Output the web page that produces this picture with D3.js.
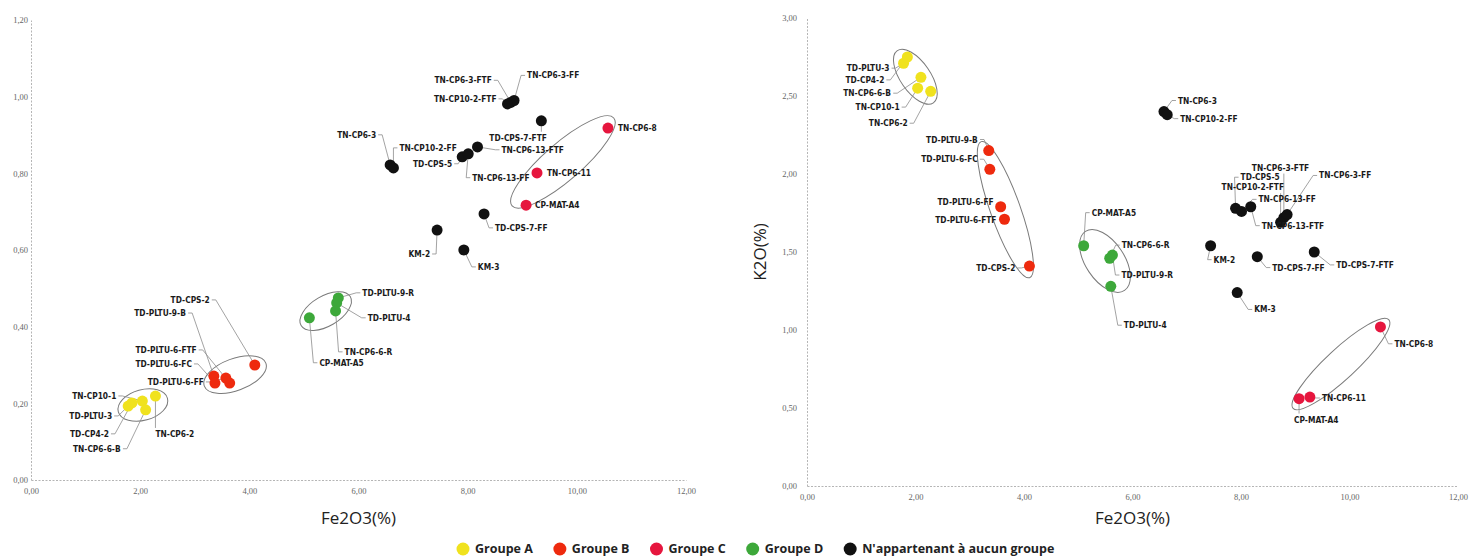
<!DOCTYPE html>
<html>
<head>
<meta charset="utf-8">
<script src="https://cdn.jsdelivr.net/npm/d3@7"></script>
<style>
  body { margin: 0; background: #fff; }
  svg { display: block; }
</style>
</head>
<body>
<svg id="chart" width="1480" height="560"></svg>
<script>
// ---- data (one entry per sample, same order everywhere) ----
const samples = [
  'TN-CP10-1', 'TD-PLTU-3', 'TD-CP4-2', 'TN-CP6-6-B', 'TN-CP6-2',
  'TD-CPS-2', 'TD-PLTU-9-B', 'TD-PLTU-6-FTF', 'TD-PLTU-6-FC', 'TD-PLTU-6-FF',
  'TD-PLTU-9-R', 'TD-PLTU-4', 'TN-CP6-6-R', 'CP-MAT-A5',
  'TN-CP6-3-FTF', 'TN-CP6-3-FF', 'TN-CP10-2-FTF', 'TN-CP6-3', 'TN-CP10-2-FF',
  'TD-CPS-7-FTF', 'TN-CP6-13-FTF', 'TD-CPS-5', 'TN-CP6-13-FF', 'TD-CPS-7-FF',
  'KM-2', 'KM-3',
  'TN-CP6-8', 'TN-CP6-11', 'CP-MAT-A4'
];
const groups = [
  'A', 'A', 'A', 'A', 'A',
  'B', 'B', 'B', 'B', 'B',
  'D', 'D', 'D', 'D',
  'N', 'N', 'N', 'N', 'N',
  'N', 'N', 'N', 'N', 'N',
  'N', 'N',
  'C', 'C', 'C'
];
const fe2o3 = [
  2.04, 1.78, 1.85, 2.10, 2.28,
  4.10, 3.35, 3.64, 3.37, 3.57,
  5.63, 5.60, 5.58, 5.10,
  8.79, 8.85, 8.73, 6.58, 6.64,
  9.35, 8.18, 7.90, 8.01, 8.30,
  7.44, 7.93,
  10.57, 9.27, 9.07
];
// left chart ordinate (no axis title in the source)
const yLeft = [
  0.206, 0.193, 0.201, 0.183, 0.219,
  0.300, 0.271, 0.253, 0.253, 0.266,
  0.475, 0.462, 0.441, 0.423,
  0.985, 0.990, 0.981, 0.822, 0.814,
  0.937, 0.869, 0.843, 0.851, 0.694,
  0.652, 0.600,
  0.918, 0.801, 0.717
];
const k2o = [
  2.55, 2.71, 2.75, 2.62, 2.53,
  1.41, 2.15, 1.71, 2.03, 1.79,
  1.48, 1.28, 1.46, 1.54,
  1.72, 1.74, 1.69, 2.40, 2.38,
  1.50, 1.79, 1.78, 1.76, 1.47,
  1.54, 1.24,
  1.02, 0.57, 0.56
];

const legendKeys = ['A', 'B', 'C', 'D', 'N'];
const legendLabels = ['Groupe A', 'Groupe B', 'Groupe C', 'Groupe D', "N'appartenant à aucun groupe"];
const xTicks = [0, 2, 4, 6, 8, 10, 12];
const yTicksLeft = [0, 0.2, 0.4, 0.6, 0.8, 1.0, 1.2];
const yTicksRight = [0, 0.5, 1.0, 1.5, 2.0, 2.5, 3.0];

// ---- label placement (pixel offset from the point, anchor) ----
const labelPosLeft = {
  'TN-CP10-1': [-26, -5, 'e'], 'TD-PLTU-3': [-16, 10, 'e'], 'TD-CP4-2': [-23, 31, 'e'],
  'TN-CP6-6-B': [-25, 39, 'e'], 'TN-CP6-2': [0, 38, 's'],
  'TD-CPS-2': [-45, -65, 'e'], 'TD-PLTU-9-B': [-28, -63, 'e'], 'TD-PLTU-6-FTF': [-33, -33, 'e'],
  'TD-PLTU-6-FC': [-23, -19, 'e'], 'TD-PLTU-6-FF': [-22, 4, 'e'],
  'TD-PLTU-9-R': [24, -5, 's'], 'TD-PLTU-4': [31, 15, 's'], 'TN-CP6-6-R': [9, 41, 's'], 'CP-MAT-A5': [10, 45, 's'],
  'TN-CP6-3-FTF': [-19, -22, 'e'], 'TN-CP6-3-FF': [13, -25, 's'], 'TN-CP10-2-FTF': [-11, -5, 'e'],
  'TN-CP6-3': [-14, -30, 'e'], 'TN-CP10-2-FF': [6, -20, 's'],
  'TD-CPS-7-FTF': [-52, 17, 's'], 'TN-CP6-13-FTF': [24, 3, 's'], 'TD-CPS-5': [-10, 7, 'e'],
  'TN-CP6-13-FF': [4, 24, 's'], 'TD-CPS-7-FF': [11, 14, 's'],
  'KM-2': [-7, 24, 'e'], 'KM-3': [14, 17, 's'],
  'TN-CP6-8': [10, 0, 's'], 'TN-CP6-11': [10, 0, 's'], 'CP-MAT-A4': [9, 0, 's']
};
const labelPosRight = {
  'TD-PLTU-3': [-14, 5, 'e'], 'TD-CP4-2': [-23, 23, 'e'], 'TN-CP6-6-B': [-30, 16, 'e'],
  'TN-CP10-1': [-18, 19, 'e'], 'TN-CP6-2': [-23, 32, 'e'],
  'TD-PLTU-9-B': [-11, -11, 'e'], 'TD-PLTU-6-FC': [-12, -10, 'e'], 'TD-PLTU-6-FF': [-7, -5, 'e'],
  'TD-PLTU-6-FTF': [-8, 1, 'e'], 'TD-CPS-2': [-14, 2, 'e'],
  'CP-MAT-A5': [8, -33, 's'], 'TN-CP6-6-R': [12, -13, 's'], 'TD-PLTU-9-R': [9, 20, 's'], 'TD-PLTU-4': [13, 39, 's'],
  'TN-CP6-3': [14, -11, 's'], 'TN-CP10-2-FF': [13, 4, 's'],
  'TN-CP6-3-FTF': [-32, -50, 's'], 'TD-CPS-5': [5, -31, 's'], 'TN-CP6-3-FF': [32, -39, 's'],
  'TN-CP10-2-FTF': [-59, -35, 's'], 'TN-CP6-13-FF': [17, -12, 's'], 'TN-CP6-13-FTF': [11, 19, 's'],
  'KM-2': [3, 14, 's'], 'TD-CPS-7-FF': [15, 11, 's'], 'TD-CPS-7-FTF': [22, 13, 's'], 'KM-3': [17, 17, 's'],
  'TN-CP6-8': [14, 17, 's'], 'TN-CP6-11': [12, 1, 's'], 'CP-MAT-A4': [-5, 21, 's']
};

const groupColor = { A: '#f0e21e', B: '#ee2a0e', C: '#e6163e', D: '#3da83a', N: '#111111' };
const fmt = d => d3.format('.2f')(d).replace('.', ',');

const svg = d3.select('#chart');

const rows = samples.map((s, i) => ({ name: s, group: groups[i], x: fe2o3[i], yl: yLeft[i], yr: k2o[i] }));

// ellipse around a group, fitted to its points on screen (principal axis)
function groupEllipse(pts) {
  const mx = d3.mean(pts, p => p[0]), my = d3.mean(pts, p => p[1]);
  let sxx = 0, syy = 0, sxy = 0;
  pts.forEach(p => {
    const dx = p[0] - mx, dy = p[1] - my;
    sxx += dx * dx; syy += dy * dy; sxy += dx * dy;
  });
  const th = 0.5 * Math.atan2(2 * sxy, sxx - syy);
  const c = Math.cos(th), s = Math.sin(th);
  const us = pts.map(p => (p[0] - mx) * c + (p[1] - my) * s);
  const vs = pts.map(p => -(p[0] - mx) * s + (p[1] - my) * c);
  const [u0, u1] = d3.extent(us), [v0, v1] = d3.extent(vs);
  const uc = (u0 + u1) / 2, vc = (v0 + v1) / 2;
  return {
    cx: mx + uc * c - vc * s,
    cy: my + uc * s + vc * c,
    rx: (u1 - u0) / 2 + 11,
    ry: Math.max((v1 - v0) / 2 + 10, 15),
    angle: th * 180 / Math.PI
  };
}

function leader(p, b) {
  const midY = b.y + b.height / 2;
  if (p[0] < b.x - 2) {
    const ax = b.x - 2;
    return [p, [ax - 4, midY], [ax, midY]];
  }
  if (p[0] > b.x + b.width + 2) {
    const ax = b.x + b.width + 2;
    return [p, [ax + 4, midY], [ax, midY]];
  }
  const ay = p[1] < b.y ? b.y - 1 : b.y + b.height + 1;
  return [p, [p[0], ay]];
}

function drawPanel(cfg) {
  const g = svg.append('g');
  const x = d3.scaleLinear().domain([0, 12]).range(cfg.xRange);
  const y = d3.scaleLinear().domain(cfg.yDomain).range(cfg.yRange);

  const yAxis = g.append('g').attr('transform', `translate(${cfg.xRange[0]},0)`)
    .call(d3.axisLeft(y).tickValues(cfg.yTicks).tickSize(0).tickSizeOuter(0).tickPadding(cfg.yPad).tickFormat(fmt));
  const xAxis = g.append('g').attr('transform', `translate(0,${cfg.yRange[0]})`)
    .call(d3.axisBottom(x).tickValues(xTicks).tickSize(0).tickSizeOuter(0).tickPadding(8).tickFormat(fmt));
  [yAxis, xAxis].forEach(a => {
    a.select('.domain').attr('stroke', '#b5b5b5').attr('stroke-dasharray', '2,1.5');
    a.selectAll('text').attr('font-family', '"Liberation Serif", serif').attr('font-size', 8.5).attr('fill', '#666');
  });

  g.append('text')
    .attr('x', (cfg.xRange[0] + cfg.xRange[1]) / 2).attr('y', 524)
    .attr('text-anchor', 'middle')
    .attr('font-family', '"Open Sans", sans-serif').attr('font-size', 17).attr('fill', '#222')
    .text('Fe2O3(%)');
  if (cfg.yTitle) {
    g.append('text')
      .attr('transform', `translate(${cfg.xRange[0] - 41},${(cfg.yRange[0] + cfg.yRange[1]) / 2}) rotate(-90)`)
      .attr('text-anchor', 'middle')
      .attr('font-family', '"Open Sans", sans-serif').attr('font-size', 17).attr('fill', '#222')
      .text(cfg.yTitle);
  }

  const pts = rows.map(d => ({ ...d, px: x(d.x), py: y(d[cfg.yKey]) }));

  // group ellipses
  ['A', 'B', 'C', 'D'].forEach(k => {
    const e = groupEllipse(pts.filter(d => d.group === k).map(d => [d.px, d.py]));
    g.append('ellipse')
      .attr('transform', `translate(${e.cx},${e.cy}) rotate(${e.angle})`)
      .attr('rx', e.rx).attr('ry', e.ry)
      .attr('fill', 'none').attr('stroke', '#7a7a7a').attr('stroke-width', 1);
  });

  const leaders = g.append('g');
  g.append('g').selectAll('circle').data(pts).enter().append('circle')
    .attr('cx', d => d.px).attr('cy', d => d.py).attr('r', 5.5)
    .attr('fill', d => groupColor[d.group]);

  const labels = g.append('g').selectAll('text').data(pts).enter().append('text')
    .attr('x', d => d.px + cfg.labelPos[d.name][0])
    .attr('y', d => d.py + cfg.labelPos[d.name][1])
    .attr('dy', '0.35em')
    .attr('text-anchor', d => cfg.labelPos[d.name][2] === 'e' ? 'end' : 'start')
    .attr('font-family', '"DejaVu Sans Condensed", "DejaVu Sans", sans-serif')
    .attr('font-weight', 'bold').attr('font-size', 8.3).attr('fill', '#1a1a1a')
    .text(d => d.name);

  labels.each(function (d) {
    const b = this.getBBox();
    const path = leader([d.px, d.py], b);
    const last = path[path.length - 1];
    if (Math.hypot(last[0] - d.px, last[1] - d.py) < 9) return;
    leaders.append('path')
      .attr('d', d3.line()(path))
      .attr('fill', 'none').attr('stroke', '#8c8c8c').attr('stroke-width', 0.8);
  });
}

drawPanel({ xRange: [31, 686], yDomain: [0, 1.2], yRange: [480, 20], yTicks: yTicksLeft, yPad: 3, yKey: 'yl', labelPos: labelPosLeft });
drawPanel({ xRange: [807, 1458], yDomain: [0, 3], yRange: [486, 18], yTicks: yTicksRight, yPad: 10, yKey: 'yr', labelPos: labelPosRight, yTitle: 'K2O(%)' });

// legend
const leg = svg.append('g').attr('transform', 'translate(0,549)');
let lx = 463;
legendKeys.forEach((k, i) => {
  leg.append('circle').attr('cx', lx).attr('cy', 0).attr('r', 6.5).attr('fill', groupColor[k]);
  const t = leg.append('text').attr('x', lx + 12).attr('y', 0).attr('dy', '0.35em')
    .attr('font-family', '"Open Sans", sans-serif').attr('font-weight', 700).attr('font-size', 12.5)
    .attr('fill', '#222').text(legendLabels[i]);
  lx += 12 + t.node().getComputedTextLength() + 27;
});
</script>
</body>
</html>
